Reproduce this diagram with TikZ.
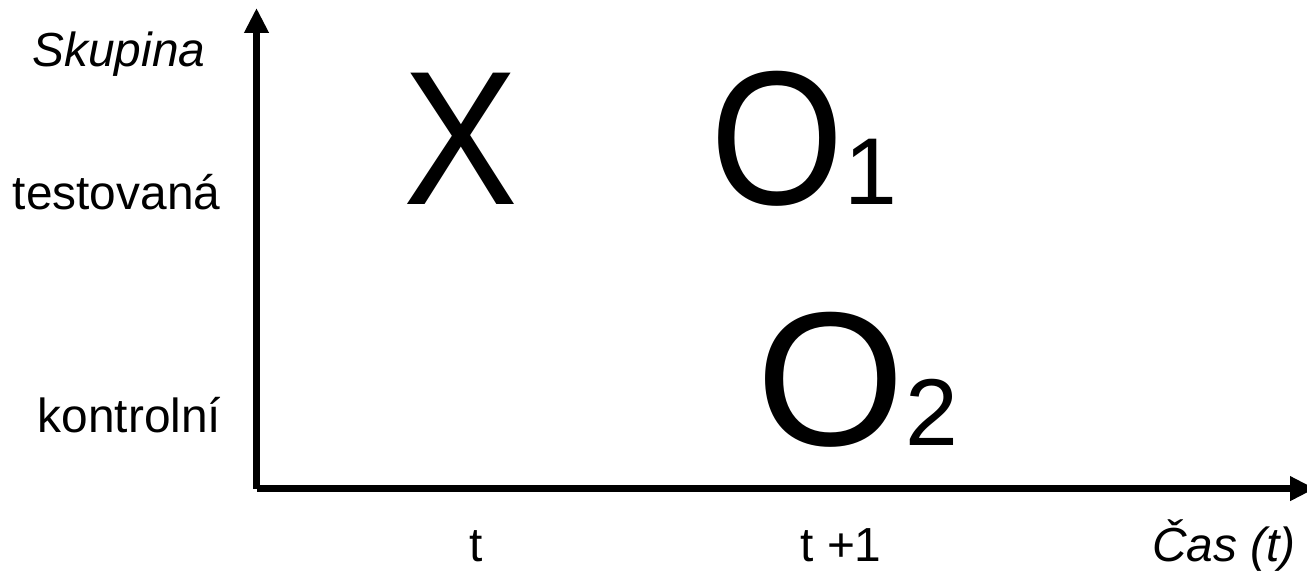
\documentclass[tikz,border=0pt]{standalone}
\usepackage{fontspec}
\setmainfont{Liberation Sans}
\usetikzlibrary{arrows.meta}
\newcommand{\idxnum}[1]{{\fontsize{27}{30}\selectfont #1}}
\tikzset{
  axis/.style={line width=2.1pt, -{Triangle[length=7.1pt,width=6.6pt]}},
  lbl/.style={inner sep=0pt, font=\fontsize{13.6}{16}\selectfont},
  big/.style={inner sep=0pt, anchor=base west, font=\fontsize{54.3}{60}\selectfont},
}

\begin{document}
\begin{tikzpicture}[x=0.01cm, y=-0.01cm]
\useasboundingbox (0,0) rectangle (1307,571);
% axes
\coordinate (orig) at (256.5,488.6);
\coordinate (ytop) at (256.5,8);
\coordinate (xend) at (1315,488.6);
\draw[axis] (orig) -- (ytop);
\draw[axis] (orig) -- (xend);
% group labels
\node[lbl, anchor=base east] (skup) at (206,67) {\itshape Skupina};
\node[lbl, anchor=base east] (test) at (221,210) {testovaná};
\node[lbl, anchor=base east] (kontr) at (222,433) {kontrolní};
% time labels
\node[lbl, anchor=base] (t0) at (476,562) {t};
\node[lbl, anchor=base] (t1) at (841,562) {t +1};
\node[lbl, anchor=base] (cas) at (1224,562) {\itshape Čas (t)};
% design
\node[big] (x) at (403,205) {\scalebox{0.9}[1]{X}};
\node[big] (o1) at (710,205) {\scalebox{0.9}[1]{O}\idxnum{1}};
\node[big] (o2) at (756,446) {O\idxnum{2}};
\end{tikzpicture}
\end{document}
